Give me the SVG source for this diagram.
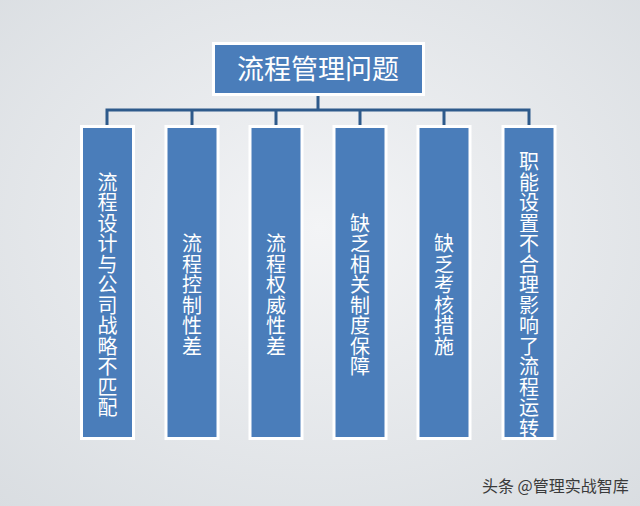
<svg xmlns="http://www.w3.org/2000/svg" width="640" height="506" viewBox="0 0 640 506">
<defs>
<radialGradient id="bg" cx="0.5" cy="0.45" r="0.75">
<stop offset="0" stop-color="#f3f4f6"/>
<stop offset="1" stop-color="#d9dde1"/>
</radialGradient>
<style>
.box{fill:#4a7dba;stroke:#ffffff;stroke-width:3}
.lbl{font-family:"Noto Sans CJK SC","Microsoft YaHei",sans-serif;font-size:20px;fill:#ffffff;writing-mode:tb;text-anchor:middle;letter-spacing:0.5px}
.title{font-family:"Noto Sans CJK SC",sans-serif;font-size:27px;fill:#ffffff;text-anchor:middle}
.con{fill:none;stroke:#2e5a8b;stroke-width:3}
</style>
</defs>
<rect width="640" height="506" fill="url(#bg)"/>
<g id="connectors">
<path class="con" d="M318 94V110M107 127V110H529V127M192 110V127M276 110V127M360 110V127M444 110V127"/>
</g>
<g id="title">
<rect class="box" x="213.500" y="43.500" width="210" height="51"/>
<text class="title" x="318" y="79">流程管理问题</text>
</g>
<g id="n1"><rect class="box" x="81.500" y="126.500" width="52" height="312"/><text class="lbl" x="107.500" y="295">流程设计与公司战略不匹配</text></g>
<g id="n2"><rect class="box" x="166" y="126.500" width="52" height="312"/><text class="lbl" x="192" y="295">流程控制性差</text></g>
<g id="n3"><rect class="box" x="250" y="126.500" width="52" height="312"/><text class="lbl" x="276" y="295">流程权威性差</text></g>
<g id="n4"><rect class="box" x="334" y="126.500" width="52" height="312"/><text class="lbl" x="360" y="295">缺乏相关制度保障</text></g>
<g id="n5"><rect class="box" x="418" y="126.500" width="52" height="312"/><text class="lbl" x="444" y="295">缺乏考核措施</text></g>
<g id="n6"><rect class="box" x="503" y="126.500" width="52" height="312"/><text class="lbl" x="529" y="295">职能设置不合理影响了流程运转</text></g>
<text x="482" y="492" font-family="Noto Sans CJK SC,sans-serif" font-size="16" fill="#3a3a3a">头条 @管理实战智库</text>
</svg>
